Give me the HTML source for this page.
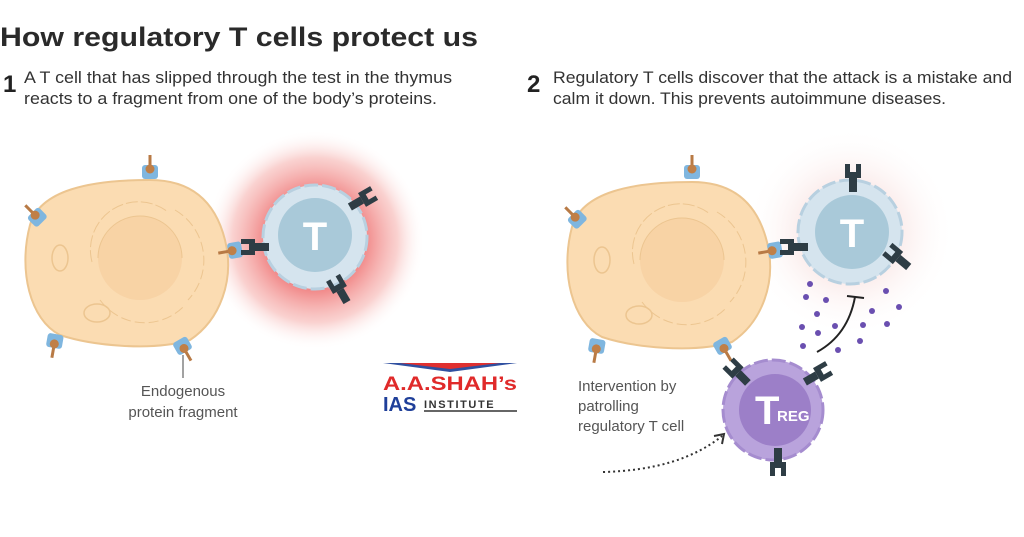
<!DOCTYPE html>
<html><head><meta charset="utf-8"><style>
html,body{margin:0;padding:0;background:#fff;}
body{width:1024px;height:532px;overflow:hidden;font-family:"Liberation Sans",sans-serif;}
</style></head><body>
<svg width="1024" height="532" viewBox="0 0 1024 532" xmlns="http://www.w3.org/2000/svg" font-family="Liberation Sans, sans-serif">
<defs>
<radialGradient id="glow" cx="50%" cy="50%" r="50%">
<stop offset="0.45" stop-color="#ef7a7a" stop-opacity="0.9"/>
<stop offset="0.75" stop-color="#f6b3b0" stop-opacity="0.6"/>
<stop offset="1" stop-color="#fff" stop-opacity="0"/>
</radialGradient>
<radialGradient id="glow2" cx="50%" cy="50%" r="50%">
<stop offset="0.3" stop-color="#f6d6d4" stop-opacity="0.8"/>
<stop offset="1" stop-color="#fff" stop-opacity="0"/>
</radialGradient>
<g id="mhc"><line x1="0" y1="-6" x2="0" y2="-18" stroke="#b87a45" stroke-width="3"/><rect x="-8" y="-8" width="16" height="14" rx="3" fill="#7fb6df"/><circle cx="0" cy="-4" r="4.5" fill="#c07f47"/></g>
<g id="tcr"><rect x="-4" y="0" width="8" height="14" fill="#2e3d45"/><path d="M-8 -14 h5 v8 h6 v-8 h5 v14 h-16z" fill="#2e3d45"/></g>
<g id="cell">
<path d="M30 225 C 40 190, 90 180, 150 180 C 190 180, 215 200, 225 240 C 235 280, 220 320, 190 340 C 150 352, 90 345, 60 335 C 30 320, 18 270, 30 225Z" fill="#fbdcb2" stroke="#ecc590" stroke-width="2"/>
<circle cx="140" cy="258" r="42" fill="#f6cf9f" opacity="0.7"/>
<path d="M98 258 A42 42 0 0 1 182 258" fill="none" stroke="#ecc590" stroke-width="1"/>
<path d="M92 262 A48 48 0 0 1 168 212" fill="none" stroke="#ecc590" stroke-width="1" stroke-dasharray="12 3"/>
<path d="M175 210 A58 58 0 0 1 188 300" fill="none" stroke="#ecc590" stroke-width="1" stroke-dasharray="10 4"/>
<path d="M100 300 A55 55 0 0 0 185 305" fill="none" stroke="#ecc590" stroke-width="1" stroke-dasharray="10 4"/>
<ellipse cx="60" cy="258" rx="8" ry="13" fill="none" stroke="#ecc590" stroke-width="1.5"/>
<ellipse cx="97" cy="313" rx="13" ry="9" fill="none" stroke="#ecc590" stroke-width="1.5"/>
</g>
</defs>
<text x="0" y="46" font-size="27" fill="#2a2a2a" font-weight="bold" textLength="478" lengthAdjust="spacingAndGlyphs">How regulatory T cells protect us</text>
<text x="3" y="92" font-size="24" font-weight="bold" fill="#222">1</text>
<text x="24" y="83" font-size="16.5" fill="#333" textLength="428" lengthAdjust="spacingAndGlyphs">A T cell that has slipped through the test in the thymus</text>
<text x="24" y="104" font-size="16.5" fill="#333" textLength="413" lengthAdjust="spacingAndGlyphs">reacts to a fragment from one of the body’s proteins.</text>
<text x="527" y="92" font-size="24" font-weight="bold" fill="#222">2</text>
<text x="553" y="83" font-size="16.5" fill="#333" textLength="459" lengthAdjust="spacingAndGlyphs">Regulatory T cells discover that the attack is a mistake and</text>
<text x="553" y="104" font-size="16.5" fill="#333" textLength="393" lengthAdjust="spacingAndGlyphs">calm it down. This prevents autoimmune diseases.</text>

<!-- left -->
<circle cx="315" cy="240" r="110" fill="url(#glow)"/>
<use href="#cell"/>
<use href="#mhc" transform="translate(150,173)"/>
<use href="#mhc" transform="translate(38,218) rotate(-45)"/>
<use href="#mhc" transform="translate(55,340) rotate(190)"/>
<use href="#mhc" transform="translate(182,345) rotate(150)"/>
<use href="#mhc" transform="translate(236,250) rotate(-100)"/>
<circle cx="315" cy="237" r="52" fill="#d5e4ee" stroke="#b8d0e0" stroke-width="3" stroke-dasharray="14 4"/>
<circle cx="315" cy="235" r="37" fill="#a9c9d9"/>
<text x="315" y="250" font-size="40" font-weight="bold" fill="#fff" text-anchor="middle">T</text>
<use href="#tcr" transform="translate(255,247) rotate(-90)"/>
<use href="#tcr" transform="translate(362,200) rotate(60)"/>
<use href="#tcr" transform="translate(340,290) rotate(-30)"/>
<line x1="183" y1="355" x2="183" y2="378" stroke="#444" stroke-width="1"/>
<text x="183" y="396" font-size="15" fill="#555" text-anchor="middle">Endogenous</text>
<text x="183" y="417" font-size="15" fill="#555" text-anchor="middle">protein fragment</text>

<!-- logo -->
<path d="M383 363 L517 363 L450 372Z" fill="#3050a0"/>
<path d="M400 363 L500 363 L450 369Z" fill="#e03030"/>
<text x="383" y="390" font-size="19" font-weight="bold" fill="#e02a2a" textLength="134" lengthAdjust="spacingAndGlyphs">A.A.SHAH’s</text>
<text x="383" y="411" font-size="20" font-weight="bold" fill="#1f3f99">IAS</text>
<text x="424" y="408" font-size="11" font-weight="bold" fill="#333" letter-spacing="1.6">INSTITUTE</text>
<line x1="424" y1="411" x2="517" y2="411" stroke="#333" stroke-width="1.5"/>

<!-- right -->
<circle cx="850" cy="232" r="105" fill="url(#glow2)"/>
<use href="#cell" transform="translate(542,2)"/>
<use href="#mhc" transform="translate(692,173) rotate(0)"/>
<use href="#mhc" transform="translate(578,220) rotate(-45)"/>
<use href="#mhc" transform="translate(597,345) rotate(190)"/>
<use href="#mhc" transform="translate(722,345) rotate(150)"/>
<use href="#mhc" transform="translate(776,250) rotate(-100)"/>
<circle cx="850" cy="232" r="52" fill="#d5e4ee" stroke="#b8d0e0" stroke-width="3" stroke-dasharray="14 4"/>
<circle cx="852" cy="232" r="37" fill="#a9c9d9"/>
<text x="852" y="247" font-size="40" font-weight="bold" fill="#fff" text-anchor="middle">T</text>
<use href="#tcr" transform="translate(794,247) rotate(-90)"/>
<use href="#tcr" transform="translate(853,178) rotate(0)"/>
<use href="#tcr" transform="translate(898,258) rotate(-50)"/>
<g fill="#6a4fb0">
<circle cx="810" cy="284" r="3"/><circle cx="806" cy="297" r="3"/><circle cx="826" cy="300" r="3"/><circle cx="817" cy="314" r="3"/><circle cx="802" cy="327" r="3"/><circle cx="818" cy="333" r="3"/><circle cx="835" cy="326" r="3"/><circle cx="803" cy="346" r="3"/><circle cx="838" cy="350" r="3"/><circle cx="886" cy="291" r="3"/><circle cx="872" cy="311" r="3"/><circle cx="899" cy="307" r="3"/><circle cx="863" cy="325" r="3"/><circle cx="887" cy="324" r="3"/><circle cx="860" cy="341" r="3"/>
</g>
<path d="M817 352 Q 848 335 855 297" fill="none" stroke="#222" stroke-width="2"/>
<line x1="847" y1="296" x2="864" y2="298" stroke="#222" stroke-width="2"/>
<circle cx="773" cy="410" r="50" fill="#b9a3dc" stroke="#a58ccf" stroke-width="3" stroke-dasharray="14 4"/>
<circle cx="775" cy="410" r="36" fill="#9c7fc8"/>
<text x="755" y="424" font-size="40" font-weight="bold" fill="#fff">T</text>
<text x="777" y="421" font-size="15" font-weight="bold" fill="#fff">REG</text>
<use href="#tcr" transform="translate(738,373) rotate(-45)"/>
<use href="#tcr" transform="translate(817,375) rotate(60)"/>
<use href="#tcr" transform="translate(778,462) rotate(180)"/>
<text x="578" y="391" font-size="15" fill="#555">Intervention by</text>
<text x="578" y="411" font-size="15" fill="#555">patrolling</text>
<text x="578" y="431" font-size="15" fill="#555">regulatory T cell</text>
<path d="M603 472 Q 680 470 722 436" fill="none" stroke="#333" stroke-width="2" stroke-dasharray="2 3"/>
<path d="M714 436 L724 434 L722 444" fill="none" stroke="#333" stroke-width="2"/>
</svg>
</body></html>
